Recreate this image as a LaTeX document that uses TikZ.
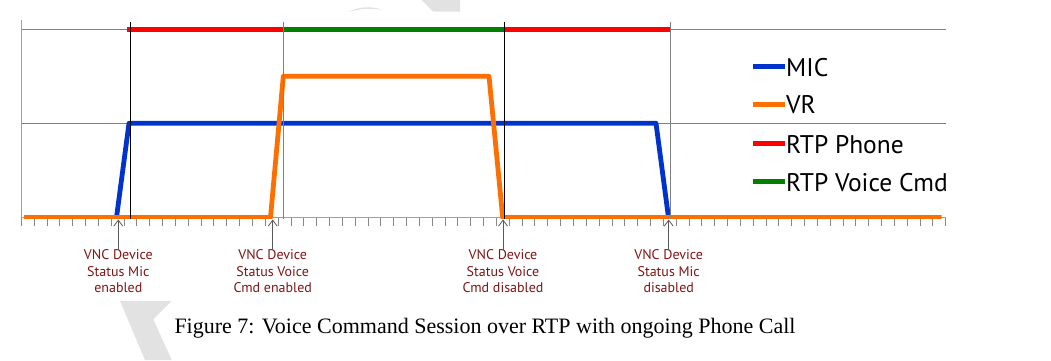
\documentclass[tikz,border=0pt]{standalone}
\usepackage{fontspec}
\setmainfont{Liberation Serif}
\newfontfamily\labfont{PT Sans}
\usetikzlibrary{arrows.meta}
\definecolor{micblue}{RGB}{0,51,204}
\definecolor{vrorange}{RGB}{255,110,0}
\definecolor{rtpred}{RGB}{255,0,0}
\definecolor{rtpgreen}{RGB}{0,128,0}
\definecolor{labred}{RGB}{128,20,20}
\definecolor{wmgray}{RGB}{226,226,226}
\definecolor{gridgray}{RGB}{128,128,128}
\definecolor{axisgray}{RGB}{160,160,160}
\begin{document}
\begin{tikzpicture}[x=1pt,y=-1pt,
  gridline/.style={draw=gridgray,line width=0.9pt},
  axisline/.style={draw=axisgray,line width=0.9pt},
  tickmark/.style={draw=axisgray!85!black,line width=0.8pt},
  marker/.style={line width=0.9pt},
  signal/.style={line width=4.8pt,line join=round},
  legendline/.style={line width=4.6pt},
  legendtext/.style={anchor=base west,inner sep=0pt,font=\labfont\fontsize{25.5}{30}\selectfont},
  evlabel/.style={anchor=north,inner sep=0pt,align=center,text=labred,font=\labfont\fontsize{14}{16.5}\selectfont},
  evarrow/.style={draw=black!65,line width=0.8pt,-{Straight Barb[length=6pt,width=9pt]}}
]
\useasboundingbox (0,0) rectangle (1051,360);
% watermark shapes
\fill[wmgray] (120,301) -- (171.7,301) -- (153.3,319.3) -- (171.7,360) -- (145,360) -- cycle;
\fill[wmgray] (421.7,0) -- (460,0) -- (460,11.7) -- (433,11.7) -- cycle;
\fill[wmgray] (348,12) .. controls (360,6) and (372,6) .. (383,10) .. controls (372,8) and (360,8.5) .. (348,12) -- cycle;
% grid and axes
\draw[gridline] (21.3,29.3) -- (945.7,29.3);
\draw[gridline] (21.3,123.3) -- (945.7,123.3);
\draw[axisline] (21.3,20) -- (21.3,226);
\draw[axisline] (21.3,217.5) -- (945.7,217.5);
\foreach \k in {0,...,72} {
  \draw[tickmark] ({21.3+12.839*\k},218) -- ({21.3+12.839*\k},226);
}
% RTP bars
\draw[rtpred,line width=4.7pt] (127,29.3) -- (283.3,29.3);
\draw[rtpgreen,line width=4.7pt] (283.3,29.3) -- (504.3,29.3);
\draw[rtpred,line width=4.7pt] (504.3,29.3) -- (670,29.3);
% signals
\begin{scope}
\clip (21.3,0) rectangle (945.7,218.3);
\draw[signal,micblue] (116.5,217.5) -- (129,123.3) -- (656,123.3) -- (668.5,217.5);
\draw[signal,vrorange] (24,217.5) -- (270.5,217.5) -- (283.3,76.3) -- (489,76.3) -- (502.7,217.5) -- (941.7,217.5);
\end{scope}
% marker lines
\draw[marker,black] (130.3,21.7) -- (130.3,219);
\draw[marker,black] (504.3,21.7) -- (504.3,219);
\draw[marker,gridgray] (283.3,22) -- (283.3,219);
\draw[marker,gridgray] (670,22) -- (670,219);
% legend
\draw[legendline,micblue] (753.3,66.7) -- (785,66.7);
\node[legendtext] (lmic) at (786,76) {MIC};
\draw[legendline,vrorange] (753.3,104.3) -- (785,104.3);
\node[legendtext] (lvr) at (786,113.6) {VR};
\draw[legendline,rtpred] (753.3,143.7) -- (785,143.7);
\node[legendtext] (lph) at (786,153) {RTP Phone};
\draw[legendline,rtpgreen] (753.3,181.7) -- (785,181.7);
\node[legendtext] (lvc) at (786,191) {RTP Voice Cmd};
% event labels
\coordinate (t1) at (118.3,219.5);
\coordinate (t2) at (272.7,219.5);
\coordinate (t3) at (503,219.5);
\coordinate (t4) at (668.7,219.5);
\node[evlabel] (e1) at (118.3,249.5) {VNC Device\\Status Mic\\enabled};
\node[evlabel] (e2) at (272.7,249.5) {VNC Device\\Status Voice\\Cmd enabled};
\node[evlabel] (e3) at (503,249.5) {VNC Device\\Status Voice\\Cmd disabled};
\node[evlabel] (e4) at (668.7,249.5) {VNC Device\\Status Mic\\disabled};
\draw[evarrow] (e1.north) -- (t1);
\draw[evarrow] (e2.north) -- (t2);
\draw[evarrow] (e3.north) -- (t3);
\draw[evarrow] (e4.north) -- (t4);
% caption
\node[anchor=base,inner sep=0pt,font=\fontsize{22}{26}\selectfont] (cap) at (485,333) {Figure 7: Voice Command Session over RTP with ongoing Phone Call};
\end{tikzpicture}
\end{document}
